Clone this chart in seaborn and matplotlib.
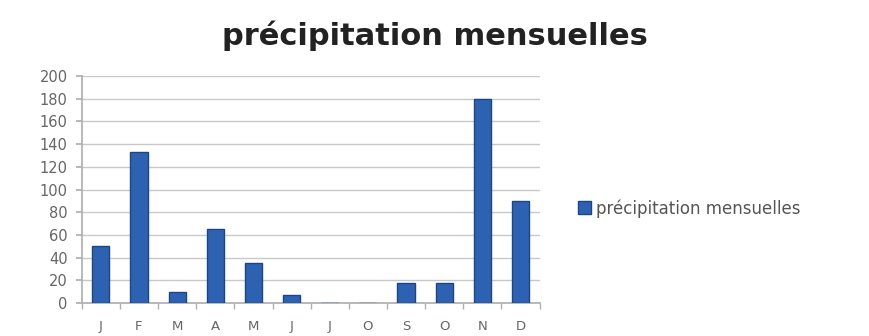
import matplotlib
matplotlib.use("Agg")
import matplotlib.pyplot as plt
import seaborn as sns
import pandas as pd
from matplotlib.patches import Patch

months = ["Jan", "Feb", "Mar", "Apr", "May", "Jun", "Jul", "Aug", "Sep", "Oct", "Nov", "Dec"]
tick_labels = ["J", "F", "M", "A", "M", "J", "J", "O", "S", "O", "N", "D"]
precip = [50, 133, 10, 65, 35, 7, 0, 0, 18, 18, 180, 90]
series_name = "précipitation mensuelles"

df = pd.DataFrame({"mois": months, "precip": precip})

sns.set_theme(style="white")
plt.rcParams["font.family"] = ["DejaVu Sans"]

fig = plt.figure(figsize=(8.69, 3.36), dpi=100)
ax = fig.add_axes([0.094, 0.098, 0.527, 0.676])

bar_color = "#2d62b3"
edge_color = "#1c4585"
sns.barplot(data=df, x="mois", y="precip", order=months, color=bar_color,
            saturation=1, width=0.45, edgecolor=edge_color, linewidth=1.0,
            ax=ax, zorder=3)

ax.set_ylim(0, 200)
ax.set_yticks(range(0, 201, 20))
ax.set_xlim(-0.5, 11.5)
ax.set_xticks(range(12))
ax.set_xticklabels(tick_labels)
ax.set_xlabel("")
ax.set_ylabel("")
ax.yaxis.grid(True, color="#c8c8c8", linewidth=1.0, zorder=0)
ax.set_axisbelow(True)
for s in ["top", "right"]:
    ax.spines[s].set_visible(False)
ax.spines["left"].set_color("#b0b0b0")
ax.spines["bottom"].set_color("#b0b0b0")
ax.tick_params(axis="y", colors="#666666", labelsize=10.5, length=4, color="#b0b0b0", left=True, pad=6)
ax.tick_params(axis="x", colors="#666666", labelsize=9.5, length=0, pad=12)
ax.set_xticks([i + 0.5 for i in range(-1, 12)], minor=True)
ax.tick_params(axis="x", which="minor", length=4, color="#b0b0b0", bottom=True)

fig.suptitle("précipitation mensuelles", x=0.5, y=0.94, fontsize=22, fontweight="bold", color="#222222")

fig.legend(handles=[Patch(facecolor=bar_color, edgecolor=edge_color, label=series_name)],
           loc="center left", bbox_to_anchor=(0.648, 0.38), frameon=False,
           fontsize=12, handlelength=0.8, handleheight=0.8, handletextpad=0.3,
           labelcolor="#555555")

fig.savefig("out.png", dpi=100, facecolor="white")
